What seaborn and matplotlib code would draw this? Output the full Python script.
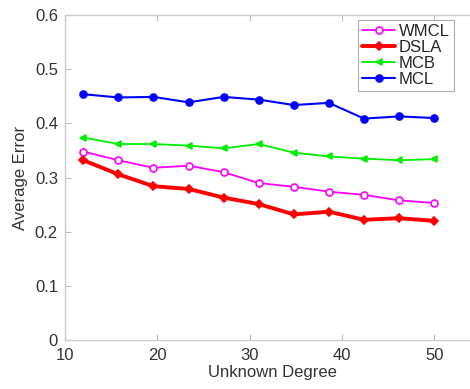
import numpy as np
import pandas as pd
import matplotlib
matplotlib.use('Agg')
import matplotlib.pyplot as plt
import seaborn as sns

# Data
degree = [12, 15.8, 19.6, 23.4, 27.2, 31, 34.8, 38.6, 42.4, 46.2, 50]
wmcl = [0.348, 0.332, 0.318, 0.322, 0.310, 0.290, 0.283, 0.274, 0.268, 0.258, 0.253]
dsla = [0.332, 0.306, 0.284, 0.279, 0.263, 0.251, 0.232, 0.237, 0.222, 0.225, 0.220]
mcb = [0.374, 0.362, 0.362, 0.359, 0.354, 0.362, 0.346, 0.339, 0.335, 0.332, 0.334]
mcl = [0.454, 0.448, 0.449, 0.439, 0.449, 0.444, 0.434, 0.438, 0.409, 0.413, 0.410]

sns.set_style('white')
plt.rcParams['font.family'] = ['Liberation Sans', 'DejaVu Sans']

fig = plt.figure(figsize=(4.7, 3.89), dpi=100)
ax = fig.add_axes([0.138, 0.126, 0.884, 0.835])

series = [
    ('WMCL', wmcl, '#ff00ff', 'o', 'white', 1.3, 5),
    ('DSLA', dsla, '#ff0000', 'D', '#ff0000', 2.8, 4.5),
    ('MCB', mcb, '#00ee00', '<', '#00ee00', 1.3, 5),
    ('MCL', mcl, '#0000ff', 'o', '#0000ff', 1.5, 5),
]
for name, vals, col, mk, fc, lw, ms in series:
    df = pd.DataFrame({'Unknown Degree': degree, 'Average Error': vals})
    sns.lineplot(data=df, x='Unknown Degree', y='Average Error', ax=ax,
                 color=col, marker=mk, markerfacecolor=fc, markeredgecolor=col,
                 markeredgewidth=1.2, markersize=ms, linewidth=lw, label=name)

ax.set_xlim(10, 55)
ax.set_ylim(0, 0.6)
ax.set_xticks([10, 20, 30, 40, 50])
ax.set_yticks([0, 0.1, 0.2, 0.3, 0.4, 0.5, 0.6])
ax.set_yticklabels(['0', '0.1', '0.2', '0.3', '0.4', '0.5', '0.6'])
ax.set_xlabel('Unknown Degree', fontsize=12, color='#333333', labelpad=1)
ax.set_ylabel('Average Error', fontsize=12, color='#333333', labelpad=5)
ax.tick_params(direction='in', length=4, width=0.8, color='#bbbbbb',
               labelsize=12, labelcolor='#333333', top=True, bottom=True, left=True)
ax.tick_params(axis='x', pad=6)
ax.tick_params(axis='y', pad=5)
for s in ax.spines.values():
    s.set_color('#cccccc')
    s.set_linewidth(1.0)

leg = ax.legend(loc='upper left', bbox_to_anchor=(0.705, 0.985), fontsize=12,
                frameon=True, fancybox=False, borderpad=0.25, labelspacing=0.05,
                handlelength=2.0, handletextpad=0.2, borderaxespad=0)
leg.get_frame().set_edgecolor('#999999')
leg.get_frame().set_linewidth(0.8)

fig.savefig('out.png', dpi=100)
